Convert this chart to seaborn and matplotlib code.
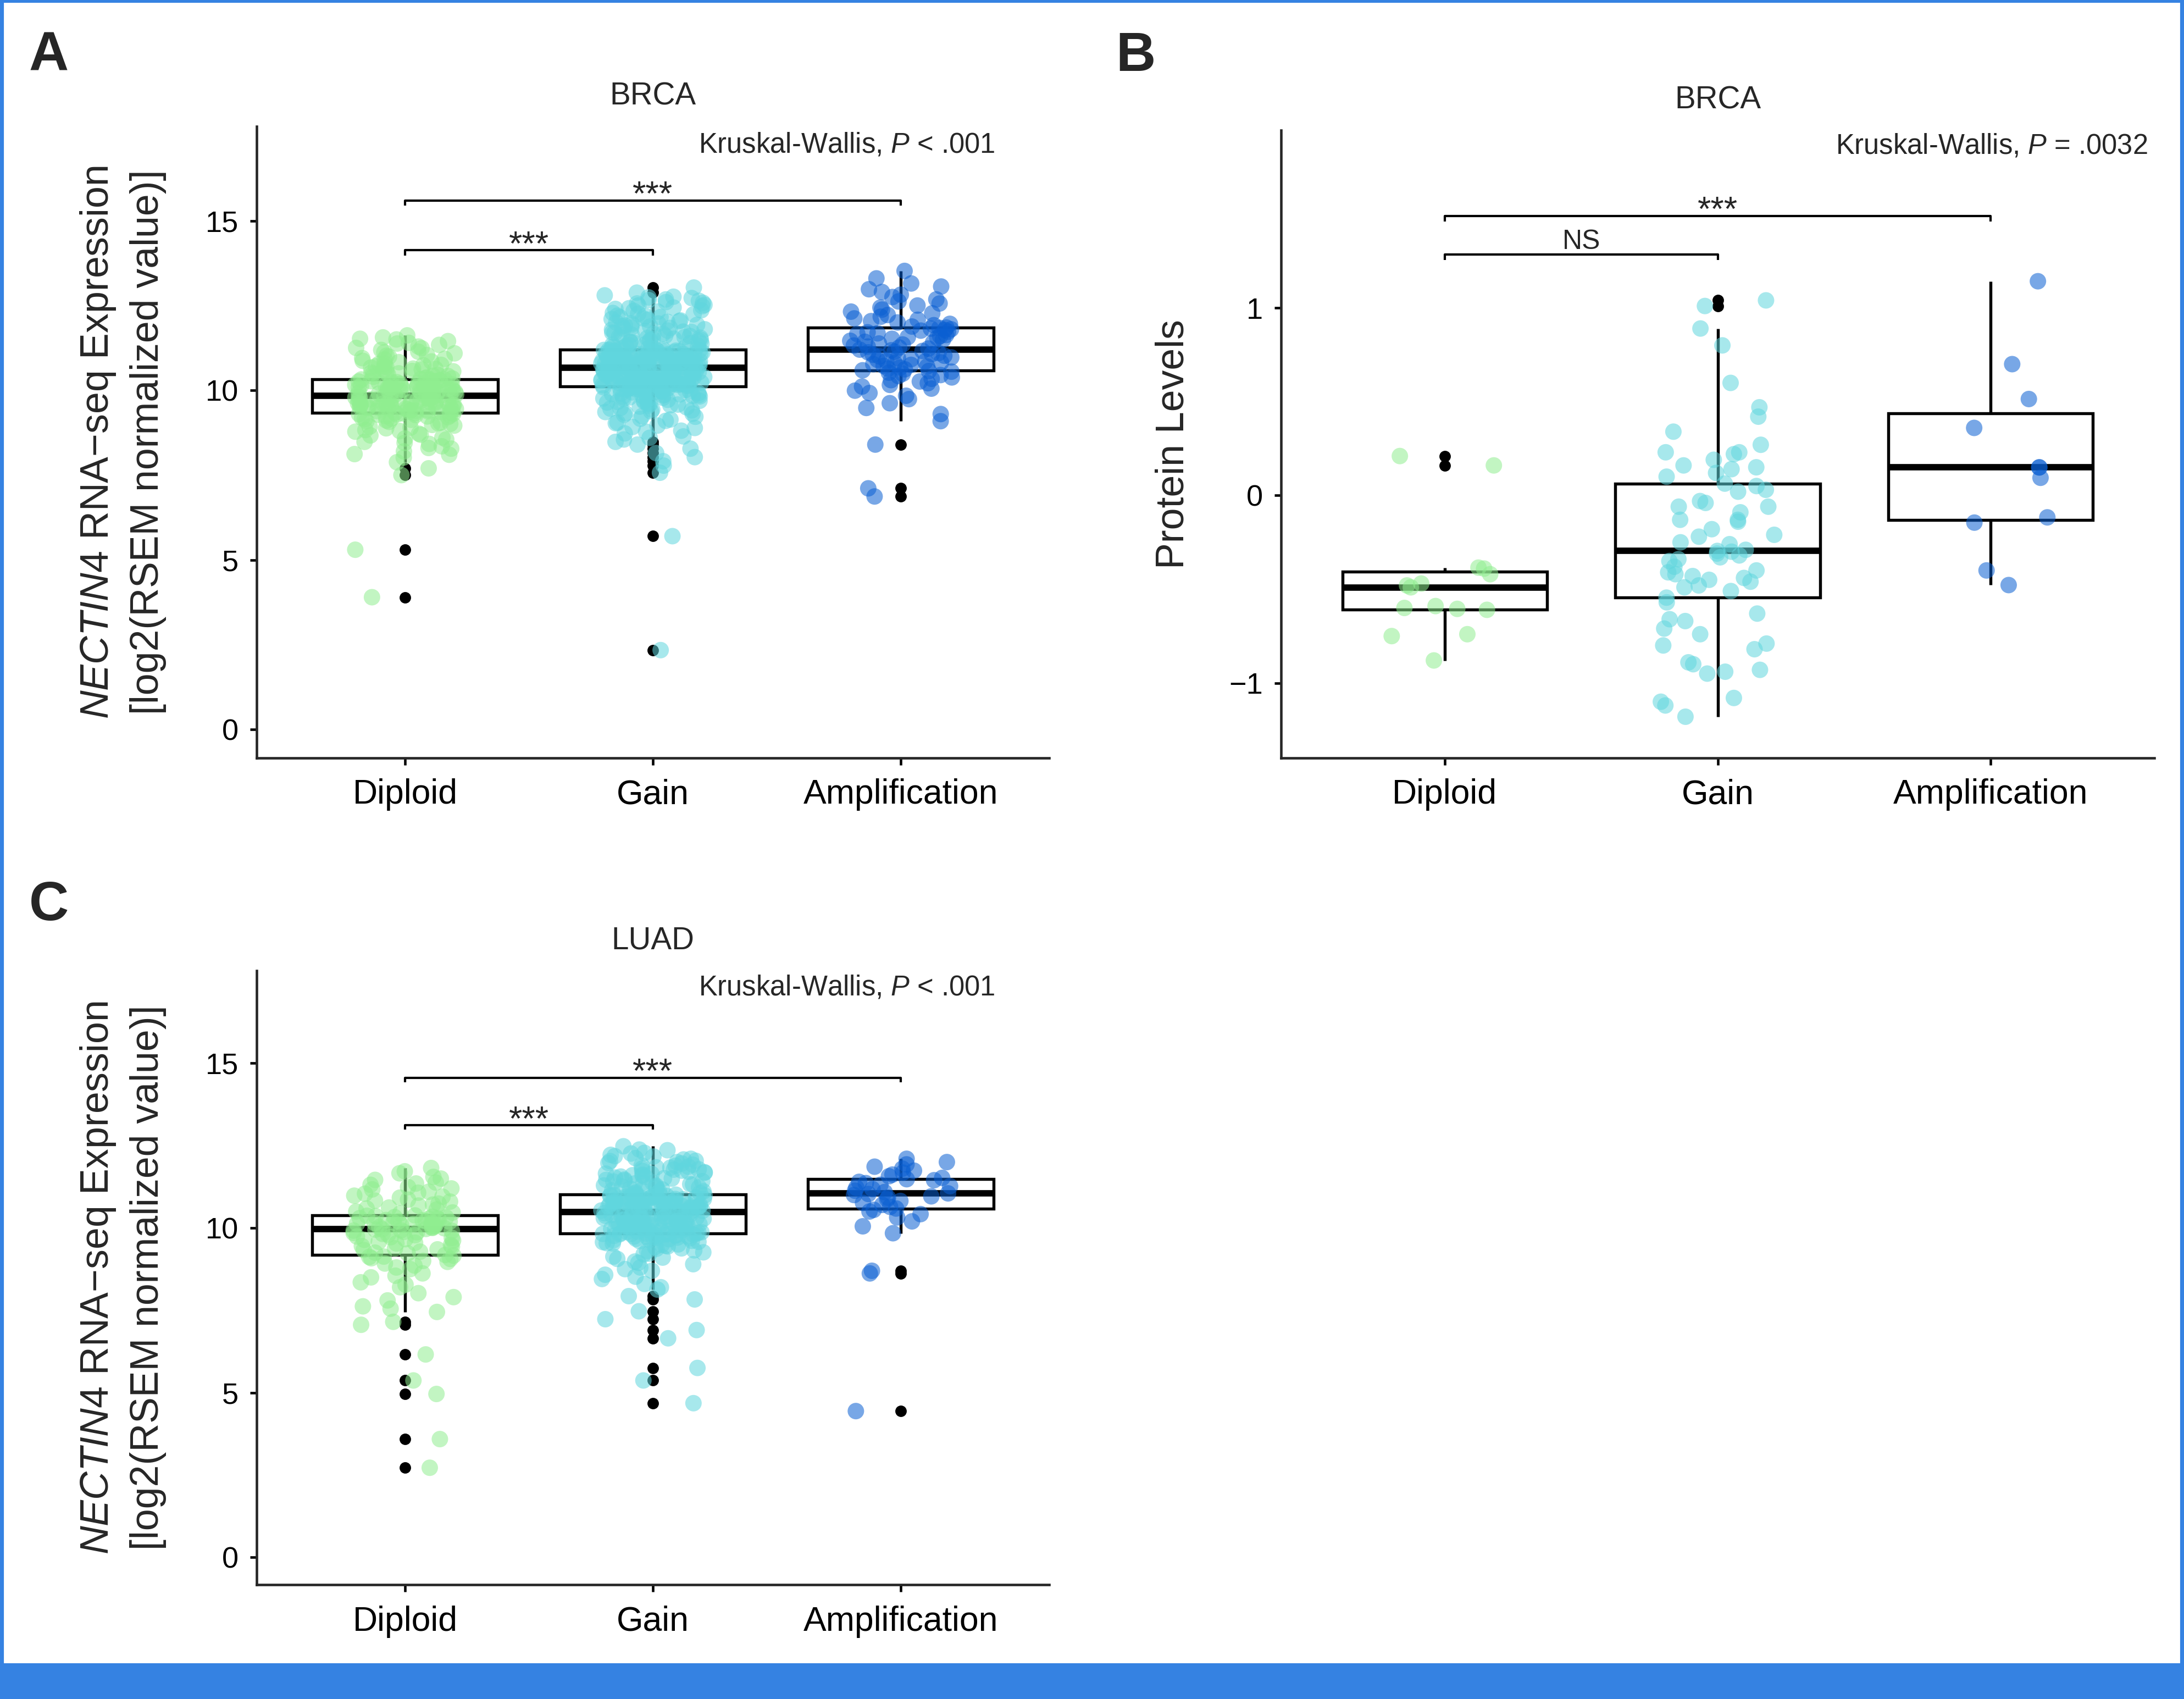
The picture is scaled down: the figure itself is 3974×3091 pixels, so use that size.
import numpy as np
import pandas as pd
import matplotlib
matplotlib.use("Agg")
import matplotlib.pyplot as plt
import seaborn as sns
from matplotlib.patches import Rectangle

groups = ["Diploid", "Gain", "Amplification"]
colors = ["#90ee90", "#60d6de", "#0a5fd2"]

# A - BRCA, NECTIN4 RNA-seq expression
brca_rna_diploid = [
    3.90, 5.30, 7.50, 7.70, 7.88, 8.02, 8.12, 8.20, 8.28, 8.35, 8.42, 8.48, 8.55, 8.61, 8.67,
    8.72, 8.78, 8.83, 8.88, 8.93, 8.98, 9.03, 9.07, 9.11, 9.15, 9.19, 9.23, 9.27, 9.30, 9.32,
    9.34, 9.36, 9.38, 9.40, 9.41, 9.43, 9.45, 9.47, 9.49, 9.51, 9.52, 9.54, 9.56, 9.58, 9.60,
    9.61, 9.63, 9.65, 9.67, 9.68, 9.70, 9.72, 9.73, 9.75, 9.76, 9.78, 9.79, 9.80, 9.82, 9.83,
    9.84, 9.86, 9.87, 9.89, 9.91, 9.92, 9.94, 9.96, 9.98, 10.00, 10.01, 10.03, 10.05, 10.07, 10.09,
    10.10, 10.12, 10.14, 10.16, 10.17, 10.19, 10.21, 10.22, 10.24, 10.25, 10.27, 10.28, 10.30, 10.31, 10.32,
    10.33, 10.36, 10.40, 10.43, 10.47, 10.50, 10.54, 10.57, 10.61, 10.64, 10.68, 10.71, 10.75, 10.79, 10.83,
    10.87, 10.91, 10.95, 10.99, 11.04, 11.09, 11.14, 11.19, 11.24, 11.29, 11.34, 11.40, 11.45, 11.50, 11.56,
    11.62,
    8.10, 8.30, 8.45, 8.58, 8.69, 8.80, 8.90, 8.96, 9.01, 9.05, 9.09, 9.13, 9.17, 9.21, 9.24,
    9.26, 9.28, 9.29, 9.31, 9.33,
    9.35, 9.37, 9.39, 9.42, 9.44, 9.46, 9.48, 9.50, 9.53, 9.55, 9.57, 9.59, 9.62, 9.64, 9.66,
    9.69, 9.71, 9.74, 9.77, 9.81,
    9.85, 9.88, 9.90, 9.93, 9.95, 9.97, 9.99, 10.02, 10.04, 10.06, 10.08, 10.11, 10.13, 10.15, 10.18,
    10.20, 10.23, 10.26, 10.29, 10.32,
    10.35, 10.38, 10.42, 10.45, 10.49, 10.52, 10.56, 10.60, 10.63, 10.67, 10.70, 10.74, 10.78, 10.85, 10.93,
    11.02, 11.12, 11.25, 11.38, 11.52,
]
brca_rna_gain = [
    2.34, 5.70, 7.57, 7.78, 7.91, 8.03, 8.15, 8.28, 8.40, 8.48,
    8.55, 8.64, 8.73, 8.81, 8.89, 8.96, 9.03, 9.10, 9.16, 9.22, 9.28, 9.33, 9.38, 9.43, 9.48,
    9.52, 9.56, 9.60, 9.64, 9.67, 9.70, 9.73, 9.76, 9.79, 9.82, 9.84, 9.86, 9.88, 9.90, 9.92,
    9.94, 9.96, 9.98, 10.00, 10.02, 10.04, 10.06, 10.08, 10.10, 10.11,
    10.12, 10.13, 10.14, 10.15, 10.16, 10.17, 10.18, 10.19, 10.20, 10.21, 10.22,
    10.24, 10.25, 10.26, 10.27, 10.28, 10.29, 10.30, 10.31, 10.32, 10.33,
    10.35, 10.36, 10.37, 10.38, 10.39, 10.40, 10.41, 10.42, 10.43, 10.44,
    10.46, 10.47, 10.48, 10.49, 10.50, 10.51, 10.52, 10.53, 10.54, 10.55,
    10.57, 10.58, 10.59, 10.60, 10.61, 10.62, 10.63, 10.64, 10.65,
    10.66, 10.67, 10.68, 10.69, 10.70, 10.71, 10.72, 10.73, 10.74, 10.75, 10.76,
    10.78, 10.79, 10.80, 10.81, 10.82, 10.83, 10.84, 10.85, 10.86, 10.87,
    10.89, 10.90, 10.91, 10.92, 10.93, 10.94, 10.95, 10.96, 10.97, 10.98,
    11.00, 11.01, 11.02, 11.03, 11.04, 11.05, 11.06, 11.07, 11.08, 11.09,
    11.11, 11.12, 11.13, 11.14, 11.15, 11.16, 11.17, 11.18, 11.19,
    11.20, 11.22, 11.25, 11.28, 11.31, 11.34, 11.37, 11.40, 11.43, 11.46, 11.49,
    11.52, 11.55, 11.58, 11.60, 11.61, 11.64, 11.67, 11.70, 11.73, 11.76, 11.79,
    11.82, 11.85, 11.88, 11.91, 11.94, 11.97, 12.00, 12.04, 12.08, 12.12, 12.16,
    12.20, 12.24, 12.28, 12.32, 12.36, 12.40, 12.44, 12.48, 12.52, 12.56, 12.60,
    12.64, 12.68, 12.72, 12.76, 12.80, 12.88, 13.03,
    8.60, 8.78, 8.92, 9.05, 9.14, 9.24, 9.31, 9.36, 9.41, 9.46, 9.50, 9.55, 9.58, 9.62, 9.66,
    9.69, 9.72, 9.75, 9.78, 9.81, 9.83, 9.85, 9.87, 9.89, 9.91, 9.93, 9.95, 9.97, 9.99, 10.01,
    10.03, 10.05, 10.07, 10.09, 10.11,
    10.13, 10.15, 10.16, 10.18, 10.20, 10.21, 10.23, 10.24, 10.26, 10.28, 10.29, 10.31, 10.32,
    10.34, 10.36, 10.37, 10.39, 10.40, 10.42, 10.44, 10.45, 10.47, 10.48, 10.50, 10.52, 10.53,
    10.55, 10.56, 10.58, 10.59, 10.60, 10.61, 10.62, 10.63, 10.65,
    10.67, 10.69, 10.70, 10.72, 10.74, 10.75, 10.77, 10.78, 10.80, 10.82, 10.83, 10.85, 10.86,
    10.88, 10.90, 10.91, 10.93, 10.94, 10.96, 10.98, 10.99, 11.01, 11.02, 11.04, 11.06, 11.07,
    11.09, 11.10, 11.12, 11.14, 11.15, 11.16, 11.17, 11.18, 11.19,
    11.21, 11.24, 11.27, 11.30, 11.33, 11.36, 11.39, 11.42, 11.45, 11.48, 11.51, 11.54, 11.57,
    11.62, 11.66, 11.69, 11.72, 11.75, 11.80, 11.84, 11.89, 11.93, 11.98, 12.02, 12.06, 12.10,
    12.15, 12.19, 12.26, 12.34, 12.42, 12.50, 12.58, 12.66, 12.74,
]
brca_rna_amp = [
    6.87, 7.11, 8.40, 9.09, 9.30, 9.48, 9.62, 9.74, 9.84, 9.92, 9.99, 10.05, 10.11, 10.16, 10.21,
    10.26, 10.30, 10.34, 10.38, 10.42, 10.45, 10.49, 10.52, 10.55, 10.57,
    10.59, 10.62, 10.64, 10.67, 10.70, 10.72, 10.75, 10.77, 10.80, 10.82, 10.85, 10.87, 10.90,
    10.92, 10.95, 10.97, 11.00, 11.02, 11.05, 11.07, 11.10, 11.12, 11.14, 11.16, 11.18,
    11.20, 11.23, 11.26, 11.29, 11.32, 11.35, 11.38, 11.41, 11.43, 11.46, 11.49, 11.52, 11.55,
    11.57, 11.60, 11.63, 11.66, 11.68, 11.71, 11.73, 11.76, 11.78, 11.80, 11.82, 11.84,
    11.85, 11.88, 11.92, 11.96, 12.00, 12.04, 12.08, 12.12, 12.17, 12.22, 12.27, 12.32, 12.38,
    12.44, 12.50, 12.56, 12.62, 12.68, 12.75, 12.82, 12.90, 12.98, 13.06, 13.15, 13.30, 13.52,
]

# B - BRCA, protein levels
brca_prot_diploid = [-0.88, -0.75, -0.74, -0.61, -0.605, -0.60, -0.59, -0.49, -0.48, -0.47,
                     -0.42, -0.39, -0.385, 0.16, 0.21]
brca_prot_gain = [
    -1.18, -1.12, -1.10, -1.08, -0.95, -0.94, -0.93, -0.90, -0.89, -0.82, -0.80, -0.79,
    -0.74, -0.71, -0.67, -0.66, -0.63, -0.57, -0.545,
    -0.51, -0.49, -0.48, -0.46, -0.45, -0.44, -0.43, -0.42, -0.41, -0.40, -0.38, -0.35,
    -0.34, -0.33, -0.32, -0.31, -0.30, -0.296,
    -0.29, -0.26, -0.25, -0.22, -0.21, -0.18, -0.14, -0.13, -0.13, -0.09, -0.06, -0.06,
    -0.04, -0.03, 0.02, 0.03, 0.05, 0.063,
    0.10, 0.12, 0.14, 0.15, 0.16, 0.19, 0.22, 0.23, 0.23, 0.27, 0.34, 0.42, 0.47, 0.60,
    0.80, 0.89, 1.01, 1.04,
]
brca_prot_amp = [-0.478, -0.40, -0.145, -0.117, 0.094, 0.149, 0.15, 0.36, 0.514, 0.70, 1.142]

# C - LUAD, NECTIN4 RNA-seq expression
luad_rna_diploid = [
    2.72, 3.59, 4.96, 5.37, 6.16, 7.06, 7.15, 7.45, 7.62, 7.80, 8.02, 8.20, 8.35, 8.50, 8.62,
    8.75, 8.86, 8.97, 9.06, 9.13,
    9.18, 9.23, 9.28, 9.33, 9.38, 9.43, 9.48, 9.53, 9.58, 9.62, 9.66, 9.70, 9.74, 9.78, 9.82,
    9.85, 9.88, 9.91, 9.93, 9.95,
    9.97, 9.99, 10.01, 10.03, 10.05, 10.07, 10.09, 10.11, 10.13, 10.15, 10.17, 10.19, 10.21,
    10.23, 10.25, 10.28, 10.30, 10.32, 10.34, 10.36,
    10.38, 10.44, 10.50, 10.56, 10.62, 10.68, 10.74, 10.80, 10.86, 10.92, 10.98, 11.04, 11.10,
    11.17, 11.24, 11.31, 11.38, 11.46, 11.55, 11.66, 11.82,
    7.55, 7.90, 8.28, 8.55, 8.80, 8.92, 9.00, 9.08, 9.12, 9.16,
    9.25, 9.35, 9.45, 9.55, 9.64, 9.72, 9.80, 9.87, 9.92, 9.96,
    10.00, 10.04, 10.08, 10.12, 10.16, 10.20, 10.24, 10.29, 10.33, 10.37,
    10.47, 10.59, 10.71, 10.83, 10.95, 11.07, 11.20, 11.35, 11.50, 11.72,
]
luad_rna_gain = [
    4.68, 5.37, 5.75, 6.65, 6.90, 7.23, 7.47, 7.83, 7.93, 8.13, 8.30, 8.45, 8.58, 8.70, 8.80,
    8.90, 8.98, 9.06, 9.13, 9.20, 9.26, 9.32, 9.37, 9.42, 9.46, 9.50, 9.54, 9.58, 9.61, 9.64,
    9.67, 9.70, 9.72, 9.74, 9.76, 9.78, 9.80, 9.81, 9.82, 9.83,
    9.84, 9.86, 9.88, 9.89, 9.91, 9.93, 9.94, 9.96, 9.98, 9.99, 10.01,
    10.03, 10.04, 10.06, 10.08, 10.09, 10.11, 10.13, 10.14, 10.16, 10.18,
    10.19, 10.21, 10.23, 10.24, 10.26, 10.28, 10.29, 10.31, 10.33, 10.34,
    10.36, 10.38, 10.39, 10.41, 10.43, 10.44, 10.46, 10.47, 10.48,
    10.49, 10.50, 10.52, 10.53, 10.54, 10.56, 10.57, 10.59, 10.60, 10.61, 10.63,
    10.64, 10.66, 10.67, 10.68, 10.70, 10.71, 10.73, 10.74, 10.75, 10.77,
    10.78, 10.80, 10.81, 10.82, 10.84, 10.85, 10.87, 10.88, 10.89, 10.91,
    10.92, 10.94, 10.95, 10.96, 10.97, 10.98, 10.99, 11.00, 11.01,
    11.02, 11.05, 11.08, 11.11, 11.14, 11.17, 11.20, 11.23, 11.26, 11.29, 11.32,
    11.35, 11.38, 11.41, 11.44, 11.47, 11.50, 11.53, 11.56, 11.59, 11.62,
    11.65, 11.68, 11.71, 11.74, 11.77, 11.80, 11.83, 11.86, 11.89, 11.92,
    11.96, 12.00, 12.04, 12.08, 12.12, 12.17, 12.22, 12.28, 12.36, 12.48,
    8.20, 8.52, 8.75, 8.94, 9.10, 9.22, 9.30, 9.38, 9.44, 9.49, 9.53, 9.57, 9.60, 9.63, 9.66,
    9.69, 9.71, 9.73, 9.75, 9.77, 9.79, 9.80, 9.81, 9.82, 9.83,
    9.87, 9.90, 9.92, 9.95, 9.97, 10.00, 10.02, 10.05, 10.07, 10.10, 10.12, 10.15, 10.17,
    10.20, 10.22, 10.25, 10.27, 10.30, 10.32, 10.35, 10.37, 10.40, 10.42, 10.45, 10.47,
    10.51, 10.53, 10.55, 10.58, 10.60, 10.62, 10.65, 10.67, 10.69, 10.72, 10.74, 10.76, 10.79,
    10.81, 10.83, 10.86, 10.88, 10.90, 10.92, 10.94, 10.96, 10.97, 10.99, 11.00, 11.01,
    11.06, 11.10, 11.15, 11.19, 11.24, 11.28, 11.33, 11.37, 11.42, 11.46, 11.51, 11.55, 11.60,
    11.64, 11.69, 11.73, 11.78, 11.84, 11.90, 11.97, 12.03, 12.10, 12.18, 12.26, 12.38,
]
luad_rna_amp = [
    4.44, 8.62, 8.70, 9.84, 10.05, 10.20, 10.32, 10.42, 10.50, 10.55,
    10.59, 10.64, 10.70, 10.76, 10.82, 10.87, 10.92, 10.96, 11.00, 11.03,
    11.05, 11.09, 11.13, 11.18, 11.22, 11.27, 11.31, 11.36, 11.40, 11.45,
    11.48, 11.52, 11.57, 11.62, 11.68, 11.74, 11.80, 11.86, 11.93, 12.00, 12.10,
]

sns.set_style("ticks")
plt.rcParams["font.family"] = ["Liberation Sans", "DejaVu Sans"]
plt.rcParams["mathtext.fontset"] = "custom"
plt.rcParams["mathtext.rm"] = "Liberation Sans"
plt.rcParams["mathtext.it"] = "Liberation Sans:italic"
plt.rcParams["axes.linewidth"] = 1.1
plt.rcParams["xtick.major.width"] = 1.1
plt.rcParams["ytick.major.width"] = 1.1
plt.rcParams["xtick.major.size"] = 3
plt.rcParams["ytick.major.size"] = 3

np.random.seed(11)

W, H = 3974, 3091
fig = plt.figure(figsize=(W / 300, H / 300), dpi=300)


def frac(x0, y0, x1, y1):
    return [x0 / W, 1 - y1 / H, (x1 - x0) / W, (y1 - y0) / H]


def panel(ax, vals, ylim, yticks, title, ptext, brackets, ylabel, ylab_x):
    df = pd.DataFrame({
        "group": np.repeat(groups, [len(v) for v in vals]),
        "value": np.concatenate([np.asarray(v, float) for v in vals]),
    })
    sns.boxplot(data=df, x="group", y="value", order=groups, color="white",
                linecolor="black", linewidth=1.3, width=0.75, whis=1.5,
                showcaps=False, fliersize=4,
                flierprops=dict(marker="o", markerfacecolor="black",
                                markeredgecolor="black"),
                medianprops=dict(linewidth=2.8), ax=ax)
    sns.stripplot(data=df, x="group", y="value", order=groups, hue="group",
                  hue_order=groups, palette=colors, jitter=0.21, size=7.2,
                  alpha=0.55, linewidth=0, legend=False, zorder=3, ax=ax)
    ax.set_xlim(-0.6, 2.6)
    ax.set_ylim(*ylim)
    ax.set_yticks(yticks)
    ax.set_xlabel("")
    ax.set_ylabel("")
    ax.tick_params(axis="x", labelsize=15, pad=6, colors="black")
    ax.tick_params(axis="y", labelsize=13, pad=5, colors="black")
    sns.despine(ax=ax)
    ax.set_title(title, fontsize=13.6, pad=9.5)
    ax.text(ptext[0], ptext[1], ptext[2], transform=ax.transAxes,
            ha="right", va="baseline", fontsize=12.2)
    for x1, x2, y, tip, lab in brackets:
        ax.plot([x1, x1, x2, x2], [y - tip, y, y, y - tip], color="black",
                lw=1.0, solid_capstyle="butt", zorder=4)
        if lab == "NS":
            ax.annotate(lab, ((x1 + x2) / 2, y), xytext=(0, 2.5),
                        textcoords="offset points", ha="center",
                        va="baseline", fontsize=12)
        else:
            ax.annotate(lab, ((x1 + x2) / 2, y), xytext=(0, -2),
                        textcoords="offset points", ha="center",
                        va="baseline", fontsize=15)
    ax.text(ylab_x, 0.5, ylabel, transform=ax.transAxes, rotation=90,
            rotation_mode="anchor", ha="center", va="center",
            fontsize=17.2, linespacing=1.42)


rna_label = ("$\\mathit{NECTIN4}$ RNA\u2212seq Expression\n"
             "[log2(RSEM normalized value)]")

axA = fig.add_axes(frac(467, 230, 1909, 1379))
panel(axA, [brca_rna_diploid, brca_rna_gain, brca_rna_amp], (-0.84, 17.78),
      [0, 5, 10, 15], "BRCA", (0.932, 0.959, "Kruskal-Wallis, $\\mathit{P}$ < .001"),
      [(0, 1, 14.13, 0.16, "***"), (0, 2, 15.60, 0.15, "***")],
      rna_label, -0.169)

axB = fig.add_axes(frac(2331, 237, 3920, 1379))
panel(axB, [brca_prot_diploid, brca_prot_gain, brca_prot_amp], (-1.40, 1.947),
      [-1, 0, 1], "BRCA", (0.992, 0.963, "Kruskal-Wallis, $\\mathit{P}$ = .0032"),
      [(0, 1, 1.284, 0.028, "NS"), (0, 2, 1.49, 0.03, "***")],
      "Protein Levels", -0.1233)

axC = fig.add_axes(frac(467, 1766, 1909, 2883))
panel(axC, [luad_rna_diploid, luad_rna_gain, luad_rna_amp], (-0.83, 17.81),
      [0, 5, 10, 15], "LUAD", (0.932, 0.9606, "Kruskal-Wallis, $\\mathit{P}$ < .001"),
      [(0, 1, 13.12, 0.13, "***"), (0, 2, 14.56, 0.14, "***")],
      rna_label, -0.169)

for lab, x, y in [("A", 89, 103), ("B", 2066, 103), ("C", 89, 1648)]:
    fig.text(x / W, 1 - y / H, lab, ha="center", va="center",
             fontsize=24, fontweight="bold")

# blue page frame
frame = "#3582e2"
fig.patches.append(Rectangle((0, 1 - 3 / H), 1, 3 / H, transform=fig.transFigure,
                             color=frame, zorder=10))
fig.patches.append(Rectangle((0, 0), 5 / W, 1, transform=fig.transFigure,
                             color=frame, zorder=10))
fig.patches.append(Rectangle((1 - 5 / W, 0), 5 / W, 1, transform=fig.transFigure,
                             color=frame, zorder=10))
fig.patches.append(Rectangle((0, 0), 1, 63 / H, transform=fig.transFigure,
                             color=frame, zorder=10))

fig.savefig("out.png", dpi=300)
